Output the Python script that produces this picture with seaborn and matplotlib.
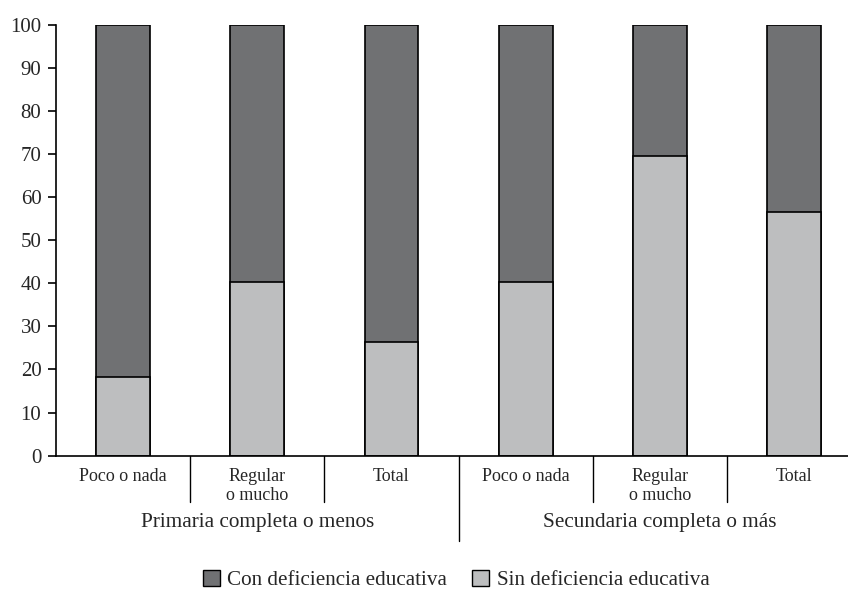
import matplotlib
matplotlib.use("Agg")
import matplotlib.pyplot as plt
import matplotlib.transforms as mtransforms
from matplotlib.patches import Patch
import seaborn as sns
import pandas as pd

sns.set_theme(style="white")
plt.rcParams["font.family"] = ["Liberation Serif", "DejaVu Serif"]

# data
bar_keys = ["p_poco", "p_regular", "p_total", "s_poco", "s_regular", "s_total"]
bar_labels = ["Poco o nada", "Regular\no mucho", "Total",
              "Poco o nada", "Regular\no mucho", "Total"]
groups = ["Primaria completa o menos", "Secundaria completa o más"]
sin_def = [18.3, 40.2, 26.3, 40.2, 69.6, 56.6]
con_def = [100 - v for v in sin_def]

dark = "#707173"
light = "#bdbebf"

df = pd.DataFrame({"bar": bar_keys, "sin": sin_def, "con": con_def})
df["total"] = df["sin"] + df["con"]

fig = plt.figure(figsize=(8.48, 5.89), dpi=100)
ax = fig.add_axes([0.0657, 0.2263, 0.9343, 0.7321])

sns.barplot(data=df, x="bar", y="total", order=bar_keys, color=dark,
            width=0.4, edgecolor="black", linewidth=1.2, saturation=1, ax=ax)
sns.barplot(data=df, x="bar", y="sin", order=bar_keys, color=light,
            width=0.4, edgecolor="black", linewidth=1.2, saturation=1, ax=ax)

ax.set_xlim(-0.5, 5.4)
ax.set_ylim(0, 100)
ax.set_yticks(range(0, 101, 10))
ax.tick_params(axis="y", which="major", length=5.8, width=1.2, direction="out",
               labelsize=15, color="black", left=True, pad=4.5)
ax.tick_params(axis="x", length=0, labelsize=13, pad=9)
ax.set_xticks(range(len(bar_keys)))
ax.set_xticklabels(bar_labels, linespacing=1.15)
ax.set_xlabel("")
ax.set_ylabel("")
for s in ["top", "right"]:
    ax.spines[s].set_visible(False)
for s in ["left", "bottom"]:
    ax.spines[s].set_color("black")
    ax.spines[s].set_linewidth(1.2)

# separators under the axis
trans = mtransforms.blended_transform_factory(ax.transData, ax.transAxes)
for xs in [0.5, 1.5, 3.5, 4.5]:
    ax.plot([xs, xs], [0, -0.107], color="black", lw=1, transform=trans, clip_on=False)
ax.plot([2.5, 2.5], [0, -0.197], color="black", lw=1, transform=trans, clip_on=False)

ax.text(1, -0.155, groups[0], transform=trans, ha="center", va="center", fontsize=15.3)
ax.text(4, -0.155, groups[1], transform=trans, ha="center", va="center", fontsize=15.3)

handles = [Patch(facecolor=dark, edgecolor="black", label="Con deficiencia educativa"),
           Patch(facecolor=light, edgecolor="black", label="Sin deficiencia educativa")]
fig.legend(handles=handles, loc="center", bbox_to_anchor=(0.538, 0.015), ncol=2,
           frameon=False, fontsize=15.2, handlelength=0.8, handleheight=0.8,
           handletextpad=0.35, columnspacing=1.2, borderpad=0.2)

fig.savefig("out.png", dpi=100)
